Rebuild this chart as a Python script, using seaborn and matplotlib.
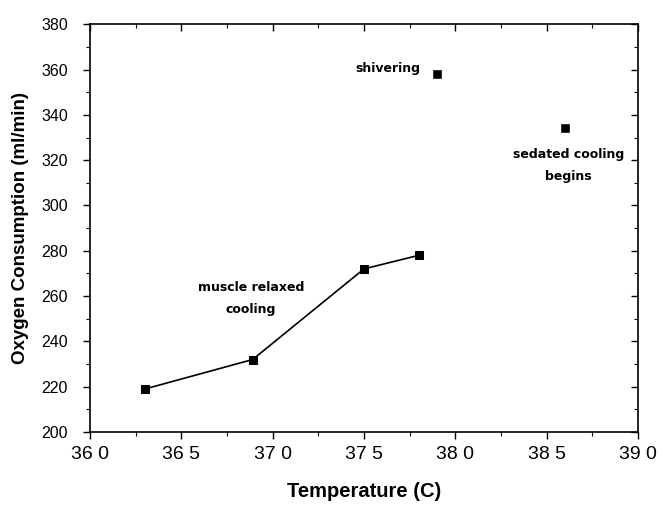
import matplotlib
matplotlib.use("Agg")
import matplotlib.pyplot as plt
import seaborn as sns
import pandas as pd
from matplotlib.ticker import MultipleLocator, FixedLocator, FixedFormatter

# Data
relaxed_temp = [36.3, 36.89, 37.5, 37.8]
relaxed_o2 = [219, 232, 272, 278]
single_temp = [37.9, 38.6]
single_o2 = [358, 334]
x_ticks = [36.0, 36.5, 37.0, 37.5, 38.0, 38.5, 39.0]
x_tick_labels = ["36 0", "36 5", "37 0", "37 5", "38 0", "38 5", "39 0"]
y_ticks = [200, 220, 240, 260, 280, 300, 320, 340, 360, 380]

sns.set_style("ticks")
plt.rcParams['font.family'] = ['Liberation Sans', 'DejaVu Sans']
plt.rcParams['text.color'] = 'black'
plt.rcParams['axes.labelcolor'] = 'black'
plt.rcParams['xtick.color'] = 'black'
plt.rcParams['ytick.color'] = 'black'

fig = plt.figure(figsize=(6.63, 5.05), dpi=100)
ax = fig.add_axes([0.136, 0.1445, 0.826, 0.8075])

df_line = pd.DataFrame({"t": relaxed_temp, "o": relaxed_o2})
df_pts = pd.DataFrame({"t": single_temp, "o": single_o2})

sns.lineplot(data=df_line, x="t", y="o", ax=ax, color="black", linewidth=1.2,
             marker="s", markersize=5.5, markeredgecolor="black", sort=False)
sns.scatterplot(data=df_pts, x="t", y="o", ax=ax, color="black", marker="s",
                s=30, edgecolor="black")

ax.set_xlim(36.0, 39.0)
ax.set_ylim(200, 380)
ax.xaxis.set_major_locator(FixedLocator(x_ticks))
ax.xaxis.set_major_formatter(FixedFormatter(x_tick_labels))
ax.xaxis.set_minor_locator(MultipleLocator(0.25))
ax.yaxis.set_major_locator(FixedLocator(y_ticks))
ax.yaxis.set_minor_locator(MultipleLocator(10))

ax.tick_params(axis="both", which="both", top=True, right=True,
               labeltop=False, labelright=False, color="black", labelcolor="black")
ax.tick_params(axis="both", which="major", length=5, width=1.0)
ax.tick_params(axis="both", which="minor", length=3, width=0.8)
ax.tick_params(axis="x", which="major", pad=5, labelsize=14)
ax.tick_params(axis="y", which="major", pad=11, labelsize=11.5)
# top/right ticks inward
for tick in ax.xaxis.get_major_ticks() + ax.xaxis.get_minor_ticks():
    tick.tick2line.set_marker(3)  # TICKDOWN
for tick in ax.yaxis.get_major_ticks() + ax.yaxis.get_minor_ticks():
    tick.tick2line.set_marker(0)  # TICKLEFT

for sp in ax.spines.values():
    sp.set_linewidth(1.2)
    sp.set_color("black")

ax.set_xlabel("Temperature (C)", fontsize=14.5, fontweight="bold", labelpad=14)
ax.set_ylabel("Oxygen Consumption (ml/min)", fontsize=13.5, fontweight="bold", labelpad=9)

ann_font = dict(fontsize=9, fontweight="bold", family=["DejaVu Sans"], color="black")
ax.text(37.63, 360.5, "shivering", ha="center", va="center", **ann_font)
ax.text(38.62, 317.5, "sedated cooling\nbegins", ha="center", va="center",
        linespacing=1.9, **ann_font)
ax.text(36.88, 259, "muscle relaxed\ncooling", ha="center", va="center",
        linespacing=1.9, **ann_font)

fig.savefig("out.png", dpi=100)
